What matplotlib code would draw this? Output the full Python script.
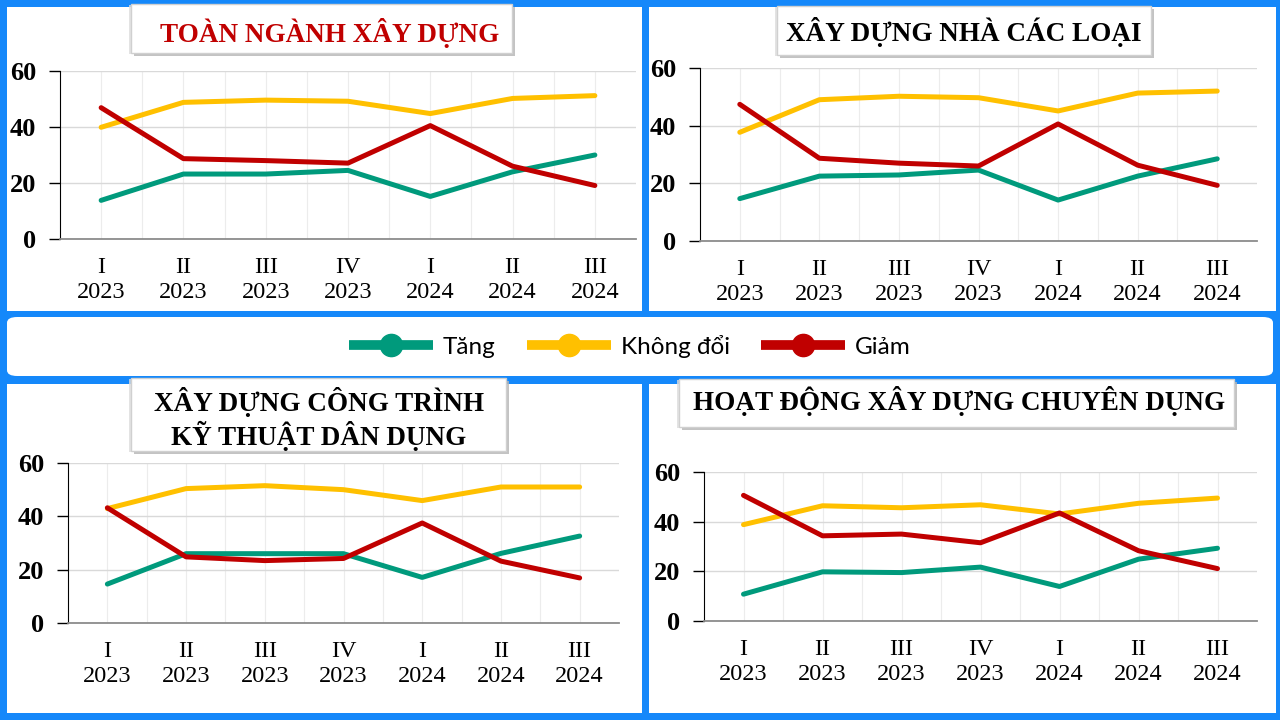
import matplotlib
matplotlib.use("Agg")
import matplotlib.pyplot as plt
from matplotlib.lines import Line2D
from matplotlib.patches import Rectangle, FancyBboxPatch

quarters = ["I\n2023", "II\n2023", "III\n2023", "IV\n2023", "I\n2024", "II\n2024", "III\n2024"]
series_names = ["Tăng", "Không đổi", "Giảm"]
colors = ["#009a7c", "#ffc000", "#c00000"]

# toàn ngành xây dựng
tang_toan = [13.8, 23.2, 23.2, 24.5, 15.2, 24.0, 30.0]
khong_toan = [39.9, 48.8, 49.6, 49.2, 44.8, 50.2, 51.2]
giam_toan = [46.9, 28.7, 28.0, 27.1, 40.5, 26.0, 19.1]

# xây dựng nhà các loại
tang_nha = [14.7, 22.5, 22.9, 24.6, 14.2, 22.5, 28.5]
khong_nha = [37.7, 49.0, 50.2, 49.7, 45.1, 51.3, 52.0]
giam_nha = [47.4, 28.7, 27.0, 26.0, 40.6, 26.3, 19.3]

# xây dựng công trình kỹ thuật dân dụng
tang_ctkt = [14.6, 26.0, 26.0, 26.0, 17.1, 26.1, 32.6]
khong_ctkt = [42.9, 50.4, 51.5, 50.0, 45.9, 51.0, 51.0]
giam_ctkt = [43.2, 24.8, 23.4, 24.2, 37.5, 23.2, 16.9]

# hoạt động xây dựng chuyên dụng
tang_cd = [10.8, 19.8, 19.5, 21.7, 13.9, 24.9, 29.3]
khong_cd = [38.8, 46.4, 45.6, 46.8, 43.1, 47.4, 49.5]
giam_cd = [50.6, 34.3, 35.0, 31.5, 43.5, 28.3, 21.1]

W, H = 1280, 720
BLUE = "#1588fa"
SERIF = "Liberation Serif"


def rect(x0, y0, x1, y1):
    # pixel box (top-left origin) -> figure fraction
    return [x0 / W, 1 - y1 / H, (x1 - x0) / W, (y1 - y0) / H]


fig = plt.figure(figsize=(12.8, 7.2), dpi=100, facecolor=BLUE)

# white panels
for x0, y0, x1, y1 in [(7, 7, 642, 311), (649, 7, 1276, 311),
                       (7, 384, 642, 713), (649, 384, 1276, 713)]:
    r = rect(x0, y0, x1, y1)
    fig.patches.append(Rectangle((r[0], r[1]), r[2], r[3], transform=fig.transFigure,
                                 facecolor="white", edgecolor="none", zorder=-2))

r = rect(7, 317, 1273, 376)
fig.patches.append(FancyBboxPatch((r[0], r[1]), r[2], r[3], transform=fig.transFigure,
                                  boxstyle="round,pad=0,rounding_size=0.008",
                                  facecolor="white", edgecolor="none", zorder=-2))

panels = [
    dict(box=(60, 71, 636, 239), data=(tang_toan, khong_toan, giam_toan),
         title="TOÀN NGÀNH XÂY DỰNG", tcolor="#c00000", tbox=(131, 4, 512, 53), tpos=(330, 33)),
    dict(box=(700, 68, 1257, 241), data=(tang_nha, khong_nha, giam_nha),
         title="XÂY DỰNG NHÀ CÁC LOẠI", tcolor="black", tbox=(777, 6, 1151, 55), tpos=(964, 32)),
    dict(box=(68, 463, 619, 623), data=(tang_ctkt, khong_ctkt, giam_ctkt),
         title="XÂY DỰNG CÔNG TRÌNH\nKỸ THUẬT DÂN DỤNG", tcolor="black", tbox=(131, 378, 506, 451),
         tpos=(319, 419)),
    dict(box=(704, 472, 1257, 621), data=(tang_cd, khong_cd, giam_cd),
         title="HOẠT ĐỘNG XÂY DỰNG CHUYÊN DỤNG", tcolor="black", tbox=(679, 379, 1234, 427),
         tpos=(959, 401)),
]

x = list(range(len(quarters)))
for p in panels:
    ax = fig.add_axes(rect(*p["box"]))
    ax.set_facecolor("none")
    for vals, c in zip(p["data"], colors):
        ax.plot(x, vals, color=c, lw=3.6, solid_capstyle="round", zorder=3, clip_on=False)
    ax.set_xlim(-0.5, 6.5)
    ax.set_ylim(0, 60)
    ax.set_yticks([0, 20, 40, 60])
    ax.set_xticks(x)
    ax.set_xticks([i + 0.5 for i in x[:-1]], minor=True)
    ax.set_xticklabels(quarters, fontfamily=SERIF, fontsize=17.5, linespacing=1.22)
    ax.set_yticklabels(["0", "20", "40", "60"], fontfamily=SERIF, fontsize=19, fontweight="bold")
    ax.tick_params(axis="x", which="both", length=0, pad=13)
    ax.tick_params(axis="y", length=8, width=1, pad=9)
    ax.grid(axis="y", color="#d9d9d9", lw=1)
    ax.grid(axis="x", which="both", color="#ececec", lw=0.8)
    ax.set_axisbelow(True)
    for s in ("top", "right"):
        ax.spines[s].set_visible(False)
    ax.spines["left"].set_color("black")
    ax.spines["bottom"].set_color("#8c8c8c")
    ax.spines["bottom"].set_linewidth(1.3)

    # title box with shadow
    bx = rect(*p["tbox"])
    fig.patches.append(Rectangle((bx[0] + 3 / W, bx[1] - 3 / H), bx[2], bx[3], transform=fig.transFigure,
                                 facecolor="#b5b5b5", edgecolor="none", alpha=0.8, zorder=5))
    fig.patches.append(Rectangle((bx[0] - 2 / W, bx[1] - 1 / H), bx[2], bx[3], transform=fig.transFigure,
                                 facecolor="#dcdcdc", edgecolor="none", alpha=0.8, zorder=5))
    fig.patches.append(Rectangle((bx[0], bx[1]), bx[2], bx[3], transform=fig.transFigure,
                                 facecolor="white", edgecolor="#d0d0d0", lw=1, zorder=6))
    fig.text(p["tpos"][0] / W, 1 - p["tpos"][1] / H, p["title"], color=p["tcolor"],
             fontfamily=SERIF, fontweight="bold", fontsize=19.5, ha="center", va="center",
             linespacing=1.15, zorder=7)

handles = [Line2D([], [], color=c, lw=7, marker="o", markersize=16, solid_capstyle="butt")
           for c in colors]
fig.legend(handles, series_names, loc="center", bbox_to_anchor=(630 / W, 1 - 346 / H),
           ncol=3, frameon=False, handlelength=3.45, handletextpad=0.4, columnspacing=1.3,
           prop={"family": "Lato", "size": 17.5})

fig.savefig("out.png", dpi=100, facecolor=BLUE)
